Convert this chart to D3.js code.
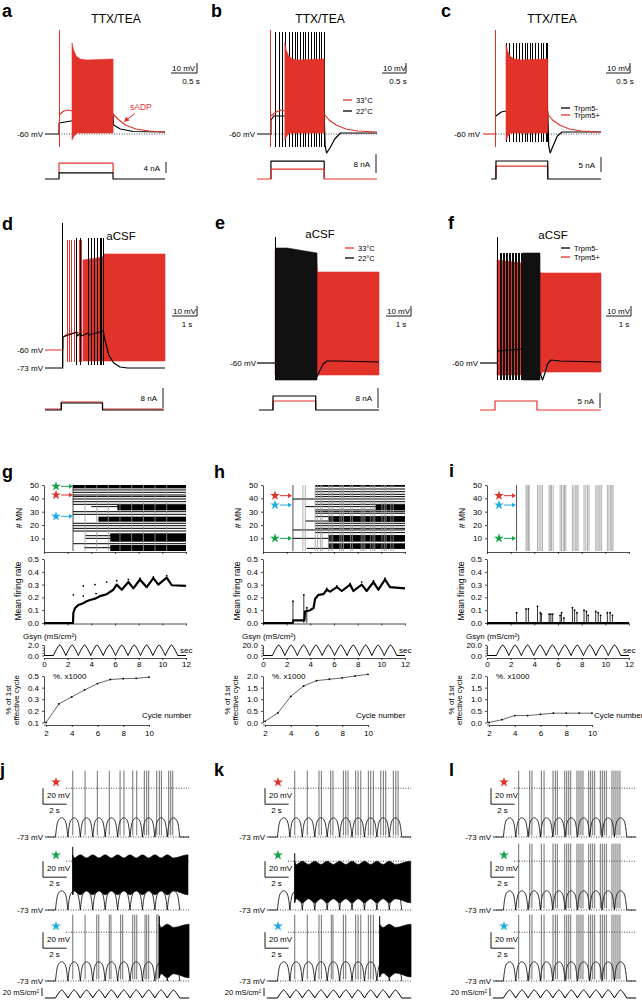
<!DOCTYPE html>
<html>
<head>
<meta charset="utf-8">
<script src="https://d3js.org/d3.v7.min.js"></script>
<style>
body { margin: 0; background: #fff; }
text { font-family: "Liberation Sans", Arial, sans-serif; }
</style>
</head>
<body>
<script>
// ---------- data (time in s, voltage in mV, current in nA) ----------
// a: TTX/TEA, sADP
const aBlack = [[0,-60],[0.27,-60],[0.271,-49],[1.31,-40],[1.32,-51],[1.45,-55],[1.7,-57.5],[2.31,-58]];
const aRedPre = [[0.27,-41],[0.36,-37],[0.45,-36],[0.52,-37]];
const aRedTop = [[0.52,31],[0.55,24],[0.6,18],[0.68,15],[0.8,14],[1.31,15]];
const aRedBot = [[0.52,-66],[0.56,-62],[0.62,-59],[1.31,-59]];
const aRedPost = [[1.31,-40],[1.4,-45],[1.55,-51],[1.75,-55],[2.0,-57],[2.31,-58]];
const aIBlack = [[0,0],[0.27,0],[0.27,2.2],[1.31,2.2],[1.31,0],[2.31,0]];
const aIRed = [[0.27,2.2],[0.27,5.8],[1.31,5.8],[1.31,2.2]];

// b: temperature
const bBlackSpikes = [0.39,0.46,0.53,0.6,0.67,0.74,0.81,0.85,0.91,0.96,1.02,1.08,1.13,1.19,1.24,1.3,1.35,1.4];
const bBlack = [[0,-60],[0.29,-60],[0.291,-46],[0.35,-42],[1.4,-42],[1.42,-72],[1.45,-79],[1.52,-74],[1.62,-65],[1.74,-59],[2.5,-59]];
const bRedPre = [[0.29,-42],[0.4,-38],[0.5,-36],[0.58,-37]];
const bRedTop = [[0.58,31],[0.61,24],[0.66,18],[0.74,15],[0.85,14],[1.4,15]];
const bRedBot = [[0.58,-66],[0.62,-62],[0.68,-59],[1.4,-59]];
const bRedPost = [[1.4,-40],[1.5,-46],[1.65,-51],[1.85,-55],[2.1,-57],[2.5,-58]];
const bIBlack = [[0.29,0],[0.29,7.5],[1.4,7.5],[1.4,0]];
const bIRed = [[0,0],[0.29,0],[0.29,4.2],[1.4,4.2],[1.4,0],[2.5,0]];

// c: Trpm5
const cBlackSpikes = [0.48,0.56,0.63,0.69,0.76,0.82,0.88,0.93,0.99,1.04,1.1,1.15,1.21,1.26,1.32,1.35];
const cBlack = [[0.27,-42],[0.38,-38],[0.48,-37],[1.35,-37],[1.37,-72],[1.4,-79],[1.46,-72],[1.55,-62],[1.65,-58],[2.46,-58]];
const cRedBase = [[0,-60],[0.27,-60]];
const cRedTop = [[0.48,29],[0.52,22],[0.58,17],[0.66,15],[0.8,14],[1.35,15]];
const cRedBot = [[0.48,-66],[0.52,-62],[0.58,-59],[1.35,-59]];
const cRedPost = [[1.35,-40],[1.45,-46],[1.6,-51],[1.8,-55],[2.05,-57],[2.46,-58]];
const cIBlack = [[0.17,0],[0.27,0],[0.27,6],[1.35,6],[1.35,0],[2.46,0]];
const cIRed = [[0.27,0],[0.27,4.3],[1.35,4.3],[1.35,0]];

// d: aCSF
const dBlackSpikes = [1.27,1.43,1.73,1.87,1.97,2.09,2.2,2.27,2.33];
const dBlack = [[0,-73],[0.71,-73],[0.711,-42],[1.27,-37],[1.29,-41],[1.43,-38],[1.45,-41],[1.73,-38],[1.75,-40],[2.33,-36],[2.4,-45],[2.55,-60],[2.75,-68],[3.0,-72],[3.3,-73],[4.8,-73]];
const dRed = [[0,-55],[0.72,-55],[0.721,-42],[0.9,-39],[1.2,-38],[1.52,-37]];
const dRedSpikes = [0.88,0.97,1.06,1.16,1.26,1.36,1.45];
const dRedTop = [[1.52,35],[2.3,38],[2.35,41],[4.8,41]];
const dRedBot = [[1.52,-66],[4.8,-66]];
const dIBlack = [[0,0],[0.65,0],[0.65,2.8],[2.3,2.8],[2.3,0],[4.75,0]];
const dIRed = [[0,0.4],[0.65,0.4],[0.65,3.2],[2.3,3.2],[2.3,0.4],[4.75,0.4]];

// e: aCSF, temperature
const eBlackTop = [[0.74,55],[1.2,55],[2.4,50]];
const eBlackBot = [[0.74,-77],[2.4,-77]];
const eBlack = [[0,-60],[0.72,-60]];
const eBlackPost = [[2.4,-74],[2.5,-68],[2.65,-61],[2.8,-58],[3.2,-58],[4.88,-59]];
const eRedTop = [[0.72,53],[2.38,47],[2.42,31],[4.88,31]];
const eRedBot = [[0.72,-72],[4.88,-72]];
const eIBlack = [[0.08,0],[0.64,0],[0.64,5.6],[2.35,5.6],[2.35,0],[4.88,0]];
const eIRed = [[0.64,0],[0.64,3.6],[2.35,3.6],[2.35,0]];

// f: aCSF, Trpm5
const fBlackSpikes = [0.8,0.86,0.92,0.98,1.04,1.1,1.16,1.22,1.28,1.34,1.4,1.46,1.52,1.58,1.64,1.7];
const fBlackTop = [[1.72,50],[2.4,50]];
const fBlackBot = [[1.72,-77],[2.4,-77]];
const fBlack = [[0,-60],[0.68,-60]];
const fBlackMid = [[0.7,-48],[1.72,-46]];
const fBlackPost = [[2.4,-70],[2.5,-77],[2.6,-70],[2.7,-61],[2.84,-57],[3.2,-58],[4.84,-59]];
const fRedTop = [[0.68,43],[1.0,42],[2.3,38],[2.42,30],[4.84,30]];
const fRedBot = [[0.68,-72],[2.42,-72],[2.5,-69],[4.84,-69]];
const fIRed = [[0,0],[0.6,0],[0.6,3],[2.28,3],[2.28,0],[4.84,0]];

// g-i: network simulations
const timeTicks = [0,2,4,6,8,10,12];
const mnTicks = [10,20,30,40,50];
const rateTicks = [0,0.1,0.2,0.3,0.4,0.5];
const cycleTicks = [2,4,6,8,10];
const cycleNumbers = [2,3,4,5,6,7,8,9,10];
const cycleEdges = [0.8,1.85,2.9,3.95,5.0,6.05,7.1,8.15,9.2,10.25,11.3];

const gBands = [[47.5,50,2.45],[31,35,6.2],[22.5,26.3,4.6],[7.5,13.8,5.6],[0.5,5,5.6]];
const gLines = [[46.3,2.45],[44.5,2.45],[42.5,2.45],[41.3,2.45],[39.5,2.45],[37.5,2.45],[35.5,2.45],[33.8,4.0],[30,2.45],[28,2.45],[21.3,2.45],[19.5,2.45],[17.5,2.45],[15.5,2.45],[12,3.5],[10,3.5],[6,2.45],[3,3.4]];
const gBurstBlack = [2.45];
const gBursts = [3.47,4.46,5.44,6.42,7.41,8.4,9.38,10.37];
const gRate = [[0,0],[2.45,0],[2.48,0.08],[2.62,0.117],[2.9,0.14],[3.32,0.155],[3.6,0.17],[3.89,0.18],[4.31,0.19],[4.73,0.21],[5.3,0.225],[5.86,0.26],[6.14,0.3],[6.57,0.26],[7.13,0.32],[7.55,0.27],[8.11,0.34],[8.68,0.28],[9.24,0.35],[9.66,0.3],[10.37,0.355],[10.8,0.295],[12,0.29]];
const gRateDots = [[2.48,0.22],[3.32,0.21],[3.32,0.29],[4.31,0.3],[4.4,0.23],[5.3,0.32],[6.14,0.33],[7.13,0.34],[8.11,0.35],[9.24,0.36],[10.37,0.37]];
const gRateSpikes = [];
const gCycle = [0.1,0.26,0.32,0.38,0.435,0.47,0.477,0.48,0.49];

const hBands = [[48.7,50,4.41],[7.5,12.5,5.53],[2.5,6.3,5.53],[22.5,26.3,5.53],[31.3,35,9.52]];
const hLines = [[47,4.41],[45,4.41],[43,4.41],[41.3,4.41],[39.5,2.53],[37.5,4.41],[35.5,4.41],[33.8,3.57],[31.3,4.41],[30,4.41],[28.8,4.41],[26.3,4.41],[23,3.57],[21.3,4.41],[19.5,4.41],[17.5,4.41],[16.3,2.53],[14.3,4.41],[10,2.53],[2.5,3.7]];
const hBurstBlack = [2.53];
const hBursts = [3.37,3.57,4.41,4.6,4.85,5.0,5.55,5.75,5.9,6.5,6.65,6.8,7.4,7.55,8.3,8.45,8.6,9.1,9.3,9.45,10.05,10.25,10.4,10.8,11.0];
const hRate = [[0,0],[2.53,0],[2.55,0.02],[3.5,0.02],[3.55,0.09],[3.99,0.1],[4.27,0.117],[4.41,0.19],[4.69,0.22],[5.11,0.225],[5.39,0.26],[5.67,0.245],[6.24,0.28],[6.66,0.25],[7.36,0.3],[7.64,0.25],[8.34,0.3],[8.76,0.25],[9.33,0.32],[9.75,0.26],[10.31,0.34],[10.73,0.28],[12,0.27]];
const hRateDots = [[5.39,0.27],[6.24,0.29],[7.36,0.31],[8.34,0.32],[9.33,0.33],[10.31,0.35]];
const hRateSpikes = [[2.53,0.17],[3.45,0.22],[3.7,0.12]];
const hCycle = [0.05,0.41,1.12,1.57,1.8,1.86,1.92,2.0,2.07];

const iBands = [];
const iLines = [];
const iBurstBlack = [2.5];
const iBursts = [3.3,3.4,3.5,3.57,4.27,4.4,4.55,4.69,5.25,5.35,5.45,5.59,6.18,6.3,6.45,6.55,6.66,7.22,7.35,7.5,7.6,7.7,8.2,8.35,8.5,8.62,9.19,9.3,9.45,9.55,9.69,10.17,10.3,10.45,10.55,10.65];
const iRate = [[0,0],[12,0]];
const iRateDots = [];
const iRateSpikes = [[2.5,0.08],[3.3,0.11],[3.5,0.11],[4.27,0.13],[4.5,0.08],[4.6,0.07],[5.25,0.07],[5.4,0.07],[5.55,0.07],[6.18,0.06],[6.3,0.08],[6.5,0.04],[7.22,0.12],[7.4,0.1],[7.6,0.08],[8.2,0.1],[8.4,0.09],[8.55,0.06],[9.19,0.09],[9.4,0.08],[9.6,0.06],[10.17,0.08],[10.4,0.08],[10.6,0.06]];
const iCycle = [0.0,0.12,0.3,0.3,0.35,0.4,0.4,0.4,0.4];

// j-l: single MN traces (red, green, blue star rows); block = [start, end, top mV, bottom mV]
const jRedSpikes = [2.26,3.3,4.34,5.35,6.26,6.59,7.33,7.67,8.31,8.51,8.68,9.36,9.58,9.75,10.37,10.54,10.71];
const jGreenBlock = [2.26,12.0,-4,-54];
const jBlueSpikes = [2.26,3.3,4.29,4.46,5.35,5.49,6.31,6.48,7.33,7.5,7.67,8.37,8.51,8.68,9.36,9.49];
const jBlueBlock = [9.58,12.09,-2,-69];
const kRedSpikes = [2.26,3.32,4.31,4.51,5.3,5.49,6.37,6.57,6.76,7.41,7.61,7.84,8.48,8.68,8.9,9.53,9.75,9.95,10.59,10.8,10.99];
const kGreenBlock = [2.26,12.06,-12,-64];
const kBlueSpikes = [2.26,3.32,4.31,4.51,5.35,5.49,6.37,6.57,7.41,7.61,7.84,8.48,8.68,8.9];
const kBlueBlock = [9.44,12.09,-2,-68];
const lSpikes = [2.1,3.04,3.23,4.03,4.26,5.02,5.22,5.39,6.02,6.19,6.36,6.53,7.06,7.23,7.4,7.57,8.06,8.23,8.4,8.57,9.05,9.22,9.39,9.56,10.04,10.21,10.38,10.55,10.72];
const blockRipple = [4, 5]; // mV dip of block top / rise of block bottom at each Gsyn peak

// ---------- drawing ----------
const RED = "#e2332a", GREEN = "#17a34a", BLUE = "#20ade6";
const svg = d3.select("body").append("svg").attr("width", 642).attr("height", 1000);

function lineGen(xs, ys, curve) {
  return d3.line().x(d => xs(d[0])).y(d => ys(d[1])).curve(curve || d3.curveLinear);
}
function trace(pts, xs, ys, color, w, curve) {
  return svg.append("path").attr("d", lineGen(xs, ys, curve)(pts))
    .attr("fill", "none").attr("stroke", color).attr("stroke-width", w || 1)
    .attr("stroke-linejoin", "round");
}
function envelope(top, bot, xs, ys, color, curve) {
  return svg.append("path").attr("d", lineGen(xs, ys, curve)(top.concat(bot.slice().reverse())) + "Z")
    .attr("fill", color).attr("stroke", color).attr("stroke-width", 0.6);
}
function spikes(times, lo, hi, xs, ys, color, w, crisp) {
  const s = svg.append("g").selectAll("line").data(times).join("line")
    .attr("x1", d => xs(d)).attr("x2", d => xs(d))
    .attr("y1", ys(lo)).attr("y2", ys(hi))
    .attr("stroke", color).attr("stroke-width", w || 0.8);
  if (crisp) s.attr("shape-rendering", "crispEdges");
}
function seg(x1, y1, x2, y2, color, w, dash) {
  const l = svg.append("line").attr("x1", x1).attr("y1", y1).attr("x2", x2).attr("y2", y2)
    .attr("stroke", color || "#000").attr("stroke-width", w || 1);
  if (dash) l.attr("stroke-dasharray", dash);
  return l;
}
function txt(x, y, s, size, o = {}) {
  const t = svg.append("text").attr("x", x).attr("y", y).attr("font-size", size)
    .attr("fill", o.fill || "#000").attr("text-anchor", o.anchor || "start").text(s);
  if (o.bold) t.attr("font-weight", "bold");
  if (o.rot) t.attr("transform", `rotate(-90,${x},${y})`);
  return t;
}
function star(x, y, color) {
  svg.append("path").attr("d", d3.symbol(d3.symbolStar, 30)())
    .attr("transform", `translate(${x},${y})`).attr("fill", color);
}
function arrow(x1, x2, y, color) {
  seg(x1, y, x2 - 3, y, color, 1);
  svg.append("path").attr("d", `M${x2},${y}L${x2 - 4},${y - 2.3}L${x2 - 4},${y + 2.3}Z`).attr("fill", color);
}
function legend(x, y, color, label) {
  seg(x, y, x + 9, y, color, 1.3);
  txt(x + 13, y + 2.8, label, 7.5);
}
function mvBar(xs, ys, xr, yb, mv, sec, l1, l2, l2x) {
  const h = Math.abs(ys(0) - ys(mv)), w = xs(sec) - xs(0);
  seg(xr, yb - h, xr, yb, "#000", 0.9);
  seg(xr - w, yb, xr, yb, "#000", 0.9);
  txt(xr - w + 1, yb - 2.2, l1, 8);
  txt(l2x, yb + 10.5, l2, 8, {anchor: "middle"});
}
function nABar(is, xr, yb, val, label) {
  const h = is(0) - is(val);
  seg(xr, yb - h, xr, yb, "#000", 0.9);
  txt(xr - 6, yb - h / 2 + 3, label, 8, {anchor: "end"});
}
function dome(t0, t1, base, peak) {
  const d = t1 - t0, h = peak - base;
  return [[t0, base], [t0 + d * 0.1, base + h * 0.55], [t0 + d * 0.25, base + h * 0.88], [t0 + d * 0.5, peak],
          [t1 - d * 0.25, base + h * 0.88], [t1 - d * 0.1, base + h * 0.55], [t1, base]];
}
function axisStyle(g) {
  g.selectAll("text").attr("font-size", 8).attr("font-family", "Liberation Sans, Arial, sans-serif");
  g.selectAll("path, line").attr("stroke-width", 0.7);
}

// panel letters
[["a",2,17],["b",211,17],["c",441,17],["d",2,230],["e",215,229],["f",448,229],
 ["g",2,478],["h",214,478],["i",449,477],["j",0,776],["k",214,776],["l",449,776]]
  .forEach(p => txt(p[1], p[2], p[0], 18, {bold: true}));

// ----- a -----
{
  const xs = d3.scaleLinear().domain([0, 2.31]).range([45, 165]);
  const ys = d3.scaleLinear().domain([-60, 40]).range([134, 34]);
  const is = d3.scaleLinear().domain([0, 4]).range([179, 168]);
  txt(116, 23, "TTX/TEA", 12, {anchor: "middle"});
  seg(xs(0.27), ys(-60), xs(2.31), ys(-60), "#000", 0.7, "1,1.5");
  trace(aBlack, xs, ys, "#000", 1.2);
  trace(aRedPre, xs, ys, RED, 1.2);
  envelope(aRedTop, aRedBot, xs, ys, RED);
  spikes([0.27], -73, 44, xs, ys, RED, 1, true);
  trace(aRedPost, xs, ys, RED, 1.2);
  txt(43, ys(-60) + 3, "-60 mV", 8, {anchor: "end"});
  txt(130, 110, "sADP", 8.5, {fill: RED});
  seg(135, 113.5, 127, 119.5, RED, 1);
  svg.append("path").attr("d", "M124,122L126,116.5L129.5,120.5Z").attr("fill", RED);
  mvBar(xs, ys, 197, 73, 10, 0.5, "10 mV", "0.5 s", 191);
  trace(aIRed, xs, is, RED, 1.2);
  trace(aIBlack, xs, is, "#000", 1.2);
  nABar(is, 166, 173, 4, "4 nA");
}
// ----- b -----
{
  const xs = d3.scaleLinear().domain([0, 2.5]).range([257, 377]);
  const ys = d3.scaleLinear().domain([-60, 40]).range([134, 34]);
  const is = d3.scaleLinear().domain([0, 8]).range([179, 160]);
  txt(320, 23, "TTX/TEA", 12, {anchor: "middle"});
  seg(xs(0.29), ys(-60), xs(2.5), ys(-60), "#000", 0.7, "1,1.5");
  spikes(bBlackSpikes, -73, 42, xs, ys, "#000", 1, true);
  trace(bBlack, xs, ys, "#000", 1.2);
  trace(bRedPre, xs, ys, RED, 1.2);
  envelope(bRedTop, bRedBot, xs, ys, RED);
  spikes([0.29], -73, 44, xs, ys, RED, 1, true);
  trace(bRedPost, xs, ys, RED, 1.2);
  txt(255, ys(-60) + 3, "-60 mV", 8, {anchor: "end"});
  legend(343, 100, RED, "33°C");
  legend(343, 111, "#000", "22°C");
  mvBar(xs, ys, 406, 73, 10, 0.5, "10 mV", "0.5 s", 398);
  trace(bIBlack, xs, is, "#000", 1.2);
  trace(bIRed, xs, is, RED, 1.2);
  nABar(is, 376, 173, 8, "8 nA");
}
// ----- c -----
{
  const xs = d3.scaleLinear().domain([0, 2.46]).range([483, 601]);
  const ys = d3.scaleLinear().domain([-60, 40]).range([134, 34]);
  const is = d3.scaleLinear().domain([0, 5]).range([179, 164]);
  txt(552, 23, "TTX/TEA", 12, {anchor: "middle"});
  seg(xs(0.27), ys(-60), xs(2.46), ys(-60), "#000", 0.7, "1,1.5");
  spikes(cBlackSpikes, -68, 31, xs, ys, "#000", 1, true);
  trace(cBlack, xs, ys, "#000", 1.2);
  trace(cRedBase, xs, ys, RED, 1.2);
  envelope(cRedTop, cRedBot, xs, ys, RED);
  spikes([0.27], -73, 44, xs, ys, RED, 1, true);
  trace(cRedPost, xs, ys, RED, 1.2);
  txt(480, ys(-60) + 3, "-60 mV", 8, {anchor: "end"});
  legend(561, 108, "#000", "Trpm5-");
  legend(561, 115, RED, "Trpm5+");
  mvBar(xs, ys, 630, 73, 10, 0.5, "10 mV", "0.5 s", 625);
  trace(cIRed, xs, is, RED, 1.2);
  trace(cIBlack, xs, is, "#000", 1.2);
  nABar(is, 601, 172, 5, "5 nA");
}
// ----- d -----
{
  const xs = d3.scaleLinear().domain([0, 4.8]).range([45, 165]);
  const ys = d3.scaleLinear().domain([-73, 27]).range([368, 268]);
  const is = d3.scaleLinear().domain([0, 8]).range([410, 390]);
  txt(121, 240, "aCSF", 11.5, {anchor: "middle"});
  trace(dRed, xs, ys, RED, 1.2);
  spikes(dRedSpikes, -67, 55, xs, ys, RED, 1, true);
  envelope(dRedTop, dRedBot, xs, ys, RED);
  spikes(dBlackSpikes, -70, 57, xs, ys, "#000", 1, true);
  spikes([0.71], -73, 72, xs, ys, "#000", 1, true);
  trace(dBlack, xs, ys, "#000", 1.2);
  txt(43, ys(-55) + 3, "-60 mV", 8, {anchor: "end"});
  txt(43, ys(-73) + 3, "-73 mV", 8, {anchor: "end"});
  mvBar(xs, ys, 197, 316, 10, 1, "10 mV", "1 s", 187);
  trace(dIRed, xs, is, RED, 1.2);
  trace(dIBlack, xs, is, "#000", 1.2);
  nABar(is, 163, 408, 8, "8 nA");
}
// ----- e -----
{
  const xs = d3.scaleLinear().domain([0, 4.88]).range([257, 379]);
  const ys = d3.scaleLinear().domain([-60, 40]).range([363, 263]);
  const is = d3.scaleLinear().domain([0, 8]).range([410, 390]);
  txt(320, 238, "aCSF", 11.5, {anchor: "middle"});
  envelope(eRedTop, eRedBot, xs, ys, RED);
  envelope(eBlackTop, eBlackBot, xs, ys, "#111");
  spikes([0.72], -77, 66, xs, ys, "#000", 1, true);
  trace(eBlack, xs, ys, "#000", 1.2);
  trace(eBlackPost, xs, ys, "#000", 1.2);
  txt(256, ys(-60) + 3, "-60 mV", 8, {anchor: "end"});
  legend(345, 248, RED, "33°C");
  legend(345, 258, "#000", "22°C");
  mvBar(xs, ys, 411, 316, 10, 1, "10 mV", "1 s", 401);
  trace(eIRed, xs, is, RED, 1.2);
  trace(eIBlack, xs, is, "#000", 1.2);
  nABar(is, 378, 408, 8, "8 nA");
}
// ----- f -----
{
  const xs = d3.scaleLinear().domain([0, 4.84]).range([480, 601]);
  const ys = d3.scaleLinear().domain([-60, 40]).range([363, 263]);
  const is = d3.scaleLinear().domain([0, 5]).range([410, 395]);
  txt(553, 239, "aCSF", 11.5, {anchor: "middle"});
  envelope(fRedTop, fRedBot, xs, ys, RED);
  spikes(fBlackSpikes, -77, 50, xs, ys, "#111", 1, true);
  envelope(fBlackTop, fBlackBot, xs, ys, "#111");
  spikes([0.68], -77, 66, xs, ys, "#000", 1, true);
  trace(fBlack, xs, ys, "#000", 1.2);
  trace(fBlackMid, xs, ys, "#000", 1.2);
  trace(fBlackPost, xs, ys, "#000", 1.2);
  txt(478, ys(-60) + 3, "-60 mV", 8, {anchor: "end"});
  legend(561, 248, "#000", "Trpm5-");
  legend(561, 257, RED, "Trpm5+");
  mvBar(xs, ys, 631, 316, 10, 1, "10 mV", "1 s", 624);
  trace(fIRed, xs, is, RED, 1.2);
  nABar(is, 600, 408, 5, "5 nA");
}

// ----- g, h, i -----
function networkColumn(x0, bands, lines, burstBlack, bursts, rate, rateDots, rateSpikes,
                       gsynMax, cycle, cycMax, cycTicks, cycLabelX, marks) {
  const xs = d3.scaleLinear().domain([0, 12]).range([x0, x0 + 142]);
  // raster
  const yR = d3.scaleLinear().domain([0, 50]).range([551.7, 485]);
  bands.forEach(b => svg.append("rect").attr("x", xs(b[2])).attr("width", xs(12) - xs(b[2]))
    .attr("y", yR(b[1])).attr("height", yR(b[0]) - yR(b[1])).attr("fill", "#000"));
  lines.forEach(l => seg(xs(l[1]), yR(l[0]), xs(12), yR(l[0]), "#000", 1));
  svg.append("g").selectAll("line").data(bursts).join("line")
    .attr("x1", d => xs(d)).attr("x2", d => xs(d)).attr("y1", yR(0.5)).attr("y2", yR(50))
    .attr("stroke", "#9a9a9a").attr("stroke-width", 0.8);
  spikes(burstBlack, 0.5, 50, xs, yR, "#222", 0.8);
  svg.append("g").attr("transform", `translate(${x0},0)`)
    .call(d3.axisLeft(yR).tickValues(mnTicks).tickSize(2).tickSizeOuter(0)).call(axisStyle);
  svg.append("g").attr("transform", "translate(0,552)")
    .call(d3.axisBottom(xs).tickValues(timeTicks).tickSize(2).tickSizeOuter(0).tickFormat("")).call(axisStyle);
  txt(x0 - 22, 518, "# MN", 8.5, {anchor: "middle", rot: true});
  marks.forEach(m => { star(x0 + 12, yR(m[0]), m[1]); arrow(x0 + 17, x0 + 29, yR(m[0]), m[1]); });

  // mean firing rate
  const yM = d3.scaleLinear().domain([0, 0.5]).range([623, 559]);
  trace(rate, xs, yM, "#000", 2.2);
  svg.append("g").selectAll("line").data(rateSpikes).join("line")
    .attr("x1", d => xs(d[0])).attr("x2", d => xs(d[0])).attr("y1", yM(0)).attr("y2", d => yM(d[1]))
    .attr("stroke", "#000").attr("stroke-width", 0.8);
  svg.append("g").selectAll("circle").data(rateDots.concat(rateSpikes)).join("circle")
    .attr("cx", d => xs(d[0])).attr("cy", d => yM(d[1])).attr("r", 0.9).attr("fill", "#000");
  svg.append("g").attr("transform", `translate(${x0},0)`)
    .call(d3.axisLeft(yM).tickValues(rateTicks).tickSize(2).tickSizeOuter(0).tickFormat(d3.format(".1f"))).call(axisStyle);
  svg.append("g").attr("transform", "translate(0,623.5)")
    .call(d3.axisBottom(xs).tickValues(timeTicks).tickSize(2).tickSizeOuter(0).tickFormat("")).call(axisStyle);
  txt(x0 - 23, 591, "Mean firing rate", 8.5, {anchor: "middle", rot: true});

  // Gsyn
  const yG = d3.scaleLinear().domain([0, gsynMax]).range([655.5, 645]);
  trace([[0, 0], [cycleEdges[0], 0]], xs, yG, "#000", 1);
  trace([[cycleEdges[cycleEdges.length - 1], 0], [12, 0]], xs, yG, "#000", 1);
  for (let k = 0; k < cycleEdges.length - 1; k++) {
    const t0 = cycleEdges[k], t1 = cycleEdges[k + 1], d = t1 - t0;
    trace([[t0, 0], [t0 + d * 0.3, gsynMax * 0.7], [t0 + d * 0.5, gsynMax], [t1 - d * 0.3, gsynMax * 0.7], [t1, 0]],
          xs, yG, "#000", 1, d3.curveMonotoneX);
  }
  svg.append("g").attr("transform", `translate(${x0},0)`)
    .call(d3.axisLeft(yG).tickValues([0, gsynMax]).tickSize(2).tickSizeOuter(0).tickFormat(d3.format(".1f"))).call(axisStyle);
  svg.append("g").attr("transform", `translate(${x0},0)`)
    .call(d3.axisLeft(yG).tickValues([gsynMax * 0.25, gsynMax * 0.5, gsynMax * 0.75]).tickSize(1.5).tickFormat("")).call(axisStyle)
    .select(".domain").remove();
  svg.append("g").attr("transform", "translate(0,658)")
    .call(d3.axisBottom(xs).tickValues(timeTicks).tickSize(2).tickSizeOuter(0).tickPadding(1.5)).call(axisStyle);
  txt(x0 - 21, 639, "Gsyn (mS/cm²)", 8);
  txt(x0 + 136, 653, "sec", 8);

  // cycle plot
  const xC = d3.scaleLinear().domain([2, 10]).range([x0 + 2, x0 + 105]);
  const yC = d3.scaleLinear().domain([cycTicks[0], cycMax]).range([722.5, 676]);
  const pts = cycleNumbers.map((c, k) => [c, cycle[k]]);
  trace(pts, xC, yC, "#000", 0.6);
  svg.append("g").selectAll("circle").data(pts).join("circle")
    .attr("cx", d => xC(d[0])).attr("cy", d => yC(d[1])).attr("r", 0.9).attr("fill", "#000");
  svg.append("g").attr("transform", `translate(${x0},0)`)
    .call(d3.axisLeft(yC).tickValues(cycTicks).tickSize(2).tickSizeOuter(0).tickFormat(d3.format(".1f"))).call(axisStyle);
  svg.append("g").attr("transform", "translate(0,725)")
    .call(d3.axisBottom(xC).tickValues(cycleTicks).tickSize(2).tickSizeOuter(0)).call(axisStyle);
  seg(x0, 725, x0 + 2, 725, "#000", 0.7);
  txt(x0 + 9, 679, "%. x1000", 8);
  txt(cycLabelX, 718, "Cycle number", 8);
  txt(x0 - 33, 700, "% of 1st", 8, {anchor: "middle", rot: true});
  txt(x0 - 25, 700, "effective cycle", 8, {anchor: "middle", rot: true});
}

networkColumn(44, gBands, gLines, gBurstBlack, gBursts, gRate, gRateDots, gRateSpikes,
  2.0, gCycle, 0.5, [0.1, 0.2, 0.3, 0.4, 0.5], 142,
  [[49, GREEN], [42.5, RED], [26.5, BLUE]]);
networkColumn(263, hBands, hLines, hBurstBlack, hBursts, hRate, hRateDots, hRateSpikes,
  20.0, hCycle, 2.0, [0, 0.5, 1, 1.5, 2], 356,
  [[42, RED], [35, BLUE], [10, GREEN]]);
networkColumn(487, iBands, iLines, iBurstBlack, iBursts, iRate, iRateDots, iRateSpikes,
  20.0, iCycle, 2.0, [0, 0.5, 1, 1.5, 2], 594,
  [[42, RED], [35, BLUE], [10, GREEN]]);

// ----- j, k, l -----
const rowBase = [837, 910, 981];
const rowColor = [RED, GREEN, BLUE];
function blockEdges(t0, t1, top, bot) {
  // edges of a tonic-firing block: top dips and bottom rises at each Gsyn peak
  const topPts = [[t0, top]], botPts = [[t0, bot]];
  for (let k = 0; k < cycleEdges.length - 1; k++) {
    const mid = (cycleEdges[k] + cycleEdges[k + 1]) / 2;
    [[cycleEdges[k], 0], [mid, 1]].forEach(([t, w]) => {
      if (t > t0 && t < t1) { topPts.push([t, top - w * blockRipple[0]]); botPts.push([t, bot + w * blockRipple[1]]); }
    });
  }
  topPts.push([t1, top]); botPts.push([t1, bot]);
  return [topPts, botPts];
}
function mnTrace(xs, row, spikeTimes, block) {
  const yb = rowBase[row];
  const ys = d3.scaleLinear().domain([-73, 10]).range([yb, yb - 83 * 0.8]);
  const x0 = xs(0);
  // dotted reference lines
  seg(x0 + 20, ys(-12), xs(12.1), ys(-12), "#000", 0.7, "1,1.5");
  seg(x0 + 2, ys(-73), xs(12.1), ys(-73), "#000", 0.7, "1,1.5");
  // slow membrane potential following Gsyn cycles
  trace([[-0.1, -73], [cycleEdges[0], -73]], xs, ys, "#000", 0.8);
  for (let k = 0; k < cycleEdges.length - 1; k++)
    trace(dome(cycleEdges[k], cycleEdges[k + 1], -73, -49), xs, ys, "#000", 0.8, d3.curveMonotoneX);
  if (!block || block[1] < 12)
    trace([[cycleEdges[cycleEdges.length - 1], -73], [12.1, -73]], xs, ys, "#000", 0.8);
  spikes(spikeTimes, -71, 10, xs, ys, "#333", 0.7);
  if (block) {
    const [t0, t1, top, bot] = block;
    const [topPts, botPts] = blockEdges(t0, t1, top, bot);
    envelope(topPts, botPts, xs, ys, "#000", d3.curveMonotoneX);
    spikes([t0], bot, top + 10, xs, ys, "#000", 1);
  }
  txt(x0 - 3, yb + 3, "-73 mV", 8, {anchor: "end"});
  // scale bar
  const xb = x0 - 3, yt = ys(-12);
  seg(xb, yt, xb, yt + 16, "#000", 0.9);
  seg(xb, yt + 16, xs(2) - 3, yt + 16, "#000", 0.9);
  txt(xb + 4, yt + 10, "20 mV", 8);
  txt(xb + 11.5, yt + 25, "2 s", 8, {anchor: "middle"});
  star(xb + 13, yt - 6, rowColor[row]);
}
function gsynStrip(xs) {
  const yG = d3.scaleLinear().domain([0, 20]).range([998, 990]);
  trace([[-0.1, 0], [cycleEdges[0], 0]], xs, yG, "#000", 1);
  trace([[cycleEdges[cycleEdges.length - 1], 0], [12.1, 0]], xs, yG, "#000", 1);
  for (let k = 0; k < cycleEdges.length - 1; k++) {
    const t0 = cycleEdges[k], t1 = cycleEdges[k + 1], d = t1 - t0;
    trace([[t0, 0], [t0 + d * 0.3, 14], [t0 + d * 0.5, 20], [t1 - d * 0.3, 14], [t1, 0]],
          xs, yG, "#000", 1, d3.curveMonotoneX);
  }
  const xb = xs(0) - 4;
  seg(xb, 988, xb, 996, "#000", 0.9);
  txt(xb - 3, 995, "20 mS/cm²", 7.5, {anchor: "end"});
}
{
  const xj = d3.scaleLinear().domain([0, 12]).range([46, 188]);
  mnTrace(xj, 0, jRedSpikes, null);
  mnTrace(xj, 1, [], jGreenBlock);
  mnTrace(xj, 2, jBlueSpikes, jBlueBlock);
  gsynStrip(xj);
  const xk = d3.scaleLinear().domain([0, 12]).range([268, 410]);
  mnTrace(xk, 0, kRedSpikes, null);
  mnTrace(xk, 1, [], kGreenBlock);
  mnTrace(xk, 2, kBlueSpikes, kBlueBlock);
  gsynStrip(xk);
  const xl = d3.scaleLinear().domain([0, 12]).range([494, 635]);
  mnTrace(xl, 0, lSpikes, null);
  mnTrace(xl, 1, lSpikes, null);
  mnTrace(xl, 2, lSpikes, null);
  gsynStrip(xl);
}
</script>
</body>
</html>
